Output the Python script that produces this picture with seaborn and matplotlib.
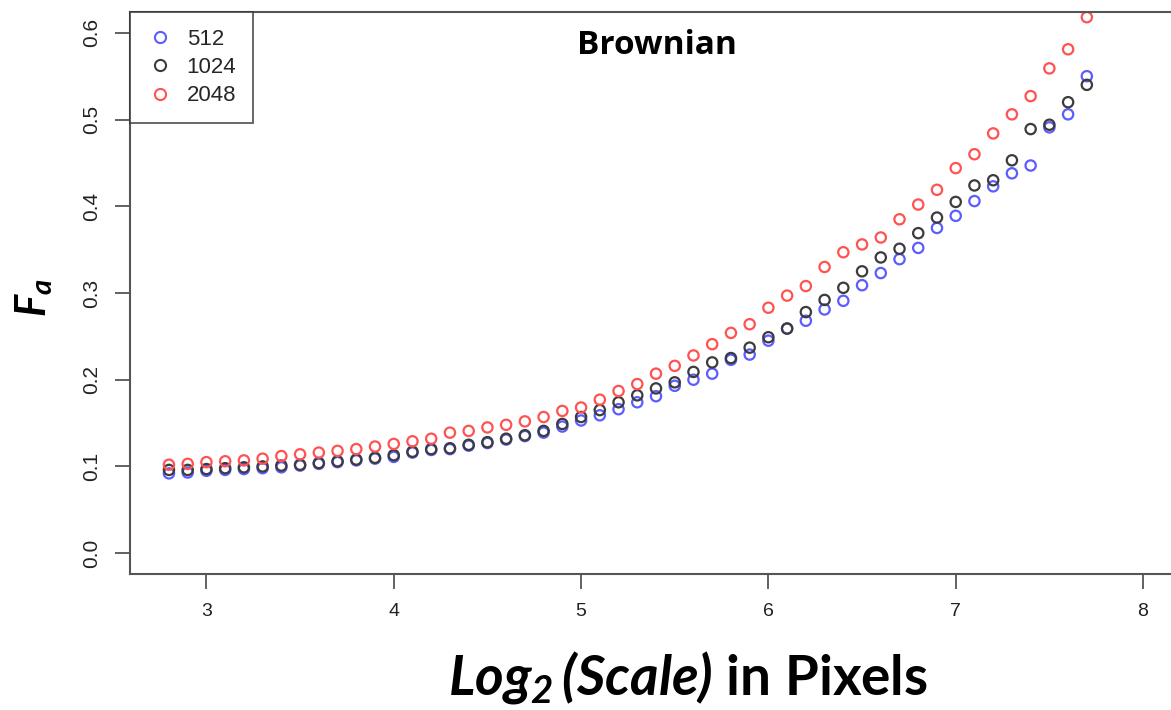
import pandas as pd
import matplotlib
matplotlib.use('Agg')
import matplotlib.pyplot as plt
import seaborn as sns
from matplotlib.lines import Line2D

# log2(scale) positions
scale = [2.8, 2.9, 3.0, 3.1, 3.2, 3.3, 3.4, 3.5, 3.6, 3.7,
         3.8, 3.9, 4.0, 4.1, 4.2, 4.3, 4.4, 4.5, 4.6, 4.7,
         4.8, 4.9, 5.0, 5.1, 5.2, 5.3, 5.4, 5.5, 5.6, 5.7,
         5.8, 5.9, 6.0, 6.1, 6.2, 6.3, 6.4, 6.5, 6.6, 6.7,
         6.8, 6.9, 7.0, 7.1, 7.2, 7.3, 7.4, 7.5, 7.6, 7.7]

fa_512 = [0.092, 0.093, 0.095, 0.096, 0.097, 0.098, 0.099, 0.101, 0.103, 0.105,
          0.107, 0.109, 0.111, 0.116, 0.119, 0.120, 0.124, 0.127, 0.131, 0.135,
          0.139, 0.146, 0.153, 0.159, 0.166, 0.174, 0.181, 0.193, 0.200, 0.207,
          0.223, 0.229, 0.245, 0.259, 0.268, 0.281, 0.291, 0.309, 0.323, 0.339,
          0.352, 0.375, 0.389, 0.406, 0.423, 0.438, 0.447, 0.491, 0.506, 0.550]

fa_1024 = [0.096, 0.096, 0.097, 0.098, 0.099, 0.100, 0.101, 0.102, 0.104, 0.106,
           0.108, 0.110, 0.113, 0.117, 0.120, 0.121, 0.125, 0.128, 0.132, 0.136,
           0.141, 0.149, 0.157, 0.165, 0.174, 0.182, 0.190, 0.197, 0.209, 0.220,
           0.225, 0.237, 0.249, 0.259, 0.278, 0.292, 0.306, 0.325, 0.341, 0.351,
           0.369, 0.387, 0.405, 0.424, 0.430, 0.453, 0.489, 0.494, 0.520, 0.540]

fa_2048 = [0.102, 0.103, 0.105, 0.106, 0.107, 0.109, 0.112, 0.114, 0.116, 0.118,
           0.120, 0.123, 0.126, 0.129, 0.132, 0.139, 0.141, 0.145, 0.148, 0.152,
           0.157, 0.164, 0.168, 0.177, 0.187, 0.195, 0.207, 0.216, 0.228, 0.241,
           0.254, 0.264, 0.283, 0.297, 0.308, 0.330, 0.347, 0.356, 0.364, 0.385,
           0.402, 0.419, 0.444, 0.460, 0.484, 0.506, 0.527, 0.559, 0.581, 0.618]

sizes = ['512', '1024', '2048']
colors = ['#5c5cff', '#3c3c3c', '#ff5252']

df = pd.DataFrame({
    'scale': scale * 3,
    'fa': fa_512 + fa_1024 + fa_2048,
    'size': [sizes[0]] * 50 + [sizes[1]] * 50 + [sizes[2]] * 50,
})

sns.set_style('white')
plt.rcParams['font.family'] = ['Liberation Sans', 'DejaVu Sans']
plt.rcParams['mathtext.fontset'] = 'custom'
plt.rcParams['mathtext.it'] = 'Lato:bold:italic'
plt.rcParams['mathtext.rm'] = 'Lato:bold:italic'
plt.rcParams['mathtext.bf'] = 'Lato:bold'

fig = plt.figure(figsize=(11.71, 7.10), dpi=100)
ax = fig.add_axes([130 / 1171, 136 / 710, 1052 / 1171, 562 / 710])

sns.scatterplot(data=df, x='scale', y='fa', hue='size', hue_order=sizes,
                palette=dict(zip(sizes, colors)), s=55, linewidth=1.6,
                legend=False, ax=ax)
# open circles like R's pch=1
pts = ax.collections[0]
pts.set_edgecolors(pts.get_facecolors())
pts.set_facecolors('none')

ax.set_xlim(2.592, 8.208)
ax.set_ylim(-0.024, 0.624)
ax.set_xticks([3, 4, 5, 6, 7, 8])
ax.set_xticklabels(['3', '4', '5', '6', '7', '8'],
                   family=['Liberation Sans Narrow', 'Liberation Sans'])
ax.set_yticks([0.0, 0.1, 0.2, 0.3, 0.4, 0.5, 0.6])
ax.set_yticklabels(['0.0', '0.1', '0.2', '0.3', '0.4', '0.5', '0.6'],
                   rotation=90, va='center')
ax.set_xlabel('')
ax.set_ylabel('')
ax.tick_params(bottom=True, left=True, direction='out', length=11, width=1.3,
               color='#555555', labelcolor='#222222', pad=10)
ax.tick_params(axis='x', labelsize=14)
ax.tick_params(axis='y', labelsize=15)
for sp in ax.spines.values():
    sp.set_color('#555555')
    sp.set_linewidth(1.5)

leg = ax.legend(handles=[Line2D([], [], ls='none', marker='o', mfc='none',
                                mec=c, ms=8, mew=1.5, label=l)
                         for l, c in zip(sizes, colors)],
                loc='upper left', frameon=True, fancybox=False,
                edgecolor='#333333', borderaxespad=0, fontsize=16,
                handletextpad=0.6, labelspacing=0.33, borderpad=0.75,
                handlelength=1.2)
leg.get_frame().set_linewidth(1.3)

fig.text(657 / 1171, 1 - 45 / 710, 'Brownian', ha='center', va='center',
         fontsize=24, fontweight='bold', family='Open Sans', color='black')
fig.text(688 / 1171, 1 - 677 / 710, r'$Log_2\,(Scale)$ in Pixels',
         ha='center', va='center', fontsize=39.5, fontweight='bold',
         family='Lato', color='black')
fig.text(35 / 1171, 1 - 298 / 710, r'$F_a$', rotation=90, ha='center',
         va='center', fontsize=30, color='black')

fig.savefig('out.png', dpi=100)
